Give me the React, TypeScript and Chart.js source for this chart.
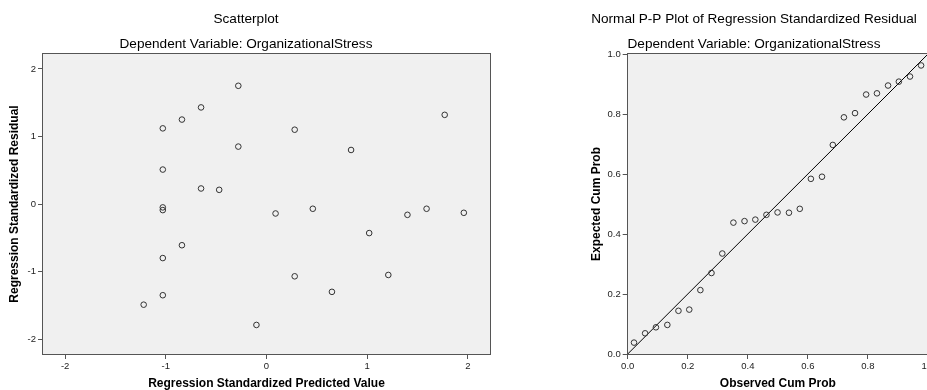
import React, { useEffect, useRef } from "react";
import { Chart, registerables } from "chart.js";

Chart.register(...registerables);

// ---- Data: left scatterplot ----
const predictedValues = [
  -0.28, -0.65, -0.84, -1.03, -0.28, -1.03, -0.65, -0.47, -1.03, -1.03, 0.28, 0.84, 1.77, 0.09,
  0.46, 1.4, 1.59, 1.96, -0.84, -1.03, -1.03, -1.22, 1.02, 0.28, 1.21, 0.65, -0.1,
];
const residualValues = [
  1.75, 1.43, 1.25, 1.12, 0.85, 0.51, 0.23, 0.21, -0.05, -0.09, 1.1, 0.8, 1.32, -0.14, -0.07,
  -0.16, -0.07, -0.13, -0.61, -0.8, -1.35, -1.49, -0.43, -1.07, -1.05, -1.3, -1.79,
];
const scatterTicks = [-2, -1, 0, 1, 2];

// ---- Data: right P-P plot ----
const observedCumProb = [
  0.021, 0.058, 0.094, 0.132, 0.169, 0.205, 0.242, 0.279, 0.315, 0.352, 0.389, 0.425, 0.462,
  0.499, 0.537, 0.573, 0.61, 0.647, 0.683, 0.72, 0.757, 0.794, 0.83, 0.867, 0.903, 0.94, 0.977,
];
const expectedCumProb = [
  0.038, 0.069, 0.089, 0.097, 0.144, 0.148, 0.213, 0.27, 0.335, 0.438, 0.443, 0.448, 0.464,
  0.472, 0.471, 0.484, 0.584, 0.591, 0.697, 0.789, 0.803, 0.865, 0.869, 0.895, 0.908, 0.925,
  0.962,
];
const ppTicks = [0, 0.2, 0.4, 0.6, 0.8, 1.0];
const ppLine = [0, 1];

const FONT = 'Arial, "Liberation Sans", sans-serif';

const frameBg = {
  id: "frameBg",
  beforeDraw(chart: any) {
    const { ctx, chartArea } = chart;
    ctx.save();
    ctx.fillStyle = "#f0f0f0";
    ctx.fillRect(chartArea.left, chartArea.top, chartArea.right - chartArea.left, chartArea.bottom - chartArea.top);
    ctx.restore();
  },
  afterDraw(chart: any) {
    const { ctx, chartArea } = chart;
    ctx.save();
    ctx.strokeStyle = "#555";
    ctx.lineWidth = 1;
    const l = Math.round(chartArea.left) - 0.5;
    const t = Math.round(chartArea.top) - 0.5;
    const r = Math.round(chartArea.right) + 0.5;
    const b = Math.round(chartArea.bottom) + 0.5;
    ctx.strokeRect(l, t, r - l, b - t);
    ctx.restore();
  },
};

function axis(
  ticks: number[],
  min: number,
  max: number,
  title: string,
  fmt: (v: number) => string,
  size: number,
  titlePad: any
) {
  return {
    type: "linear",
    min,
    max,
    afterBuildTicks: (scale: any) => {
      scale.ticks = ticks.map((v) => ({ value: v }));
    },
    afterFit: (scale: any) => {
      if (scale.isHorizontal()) scale.height = size;
      else scale.width = size;
    },
    border: { display: false },
    grid: {
      display: true,
      drawOnChartArea: false,
      drawTicks: true,
      tickLength: 5,
      color: "#555",
      lineWidth: 1,
    },
    ticks: {
      padding: 2,
      color: "#222",
      font: { size: 9.5, family: FONT },
      callback: (v: any) => fmt(Number(v)),
      maxRotation: 0,
      autoSkip: false,
    },
    title: {
      display: true,
      text: title,
      color: "#000",
      font: { size: 12, weight: "bold", family: FONT, lineHeight: 1 },
      padding: titlePad,
    },
  };
}

function titles(sub: string, main: string) {
  return {
    title: {
      display: true,
      text: main,
      color: "#000",
      font: { size: 13.6, weight: "normal", family: FONT, lineHeight: 1.2 },
      padding: { top: 11, bottom: 0 },
    },
    subtitle: {
      display: true,
      text: sub,
      color: "#000",
      font: { size: 13.6, weight: "normal", family: FONT, lineHeight: 1.2 },
      padding: { top: 9, bottom: 1.4 },
    },
  };
}

const pointStyle = {
  pointRadius: 2.8,
  pointBorderWidth: 1,
  pointBorderColor: "#333",
  pointBackgroundColor: "rgba(0,0,0,0)",
  showLine: false,
};

export default function App() {
  const leftRef = useRef<HTMLCanvasElement>(null);
  const rightRef = useRef<HTMLCanvasElement>(null);

  useEffect(() => {
    const left = new Chart(leftRef.current as HTMLCanvasElement, {
      type: "scatter",
      data: {
        datasets: [
          {
            label: "Residual",
            data: predictedValues.map((x, i) => ({ x, y: residualValues[i] })),
            ...pointStyle,
          } as any,
        ],
      },
      options: {
        responsive: false,
        animation: false,
        events: [],
        layout: { padding: { left: 0, right: 3, top: 0, bottom: 0 } },
        plugins: {
          legend: { display: false },
          tooltip: { enabled: false },
          ...titles("Dependent Variable: OrganizationalStress", "Scatterplot"),
        } as any,
        scales: {
          x: axis(scatterTicks, -2.22, 2.22, "Regression Standardized Predicted Value", (v) => String(v), 36, { top: 0, bottom: 0 }),
          y: axis(scatterTicks, -2.22, 2.22, "Regression Standardized Residual", (v) => String(v), 43, { top: 9, bottom: 0 }),
        } as any,
      },
      plugins: [frameBg],
    });

    const right = new Chart(rightRef.current as HTMLCanvasElement, {
      type: "scatter",
      data: {
        datasets: [
          {
            label: "Expected",
            data: observedCumProb.map((x, i) => ({ x, y: expectedCumProb[i] })),
            ...pointStyle,
          } as any,
          {
            type: "line",
            label: "Reference",
            data: ppLine.map((v) => ({ x: v, y: v })),
            borderColor: "#000",
            borderWidth: 1,
            pointRadius: 0,
            fill: false,
            showLine: true,
          } as any,
        ],
      },
      options: {
        responsive: false,
        animation: false,
        events: [],
        layout: { padding: { left: 80, right: 84, top: 0, bottom: 0 } },
        plugins: {
          legend: { display: false },
          tooltip: { enabled: false },
          ...titles("Dependent Variable: OrganizationalStress", "Normal P-P Plot of Regression Standardized Residual"),
        } as any,
        scales: {
          x: axis(ppTicks, 0, 1, "Observed Cum Prob", (v) => v.toFixed(1), 36, { top: 0, bottom: 0 }),
          y: axis(ppTicks, 0, 1, "Expected Cum Prob", (v) => v.toFixed(1), 47.7, { top: 11, bottom: 0 }),
        } as any,
      },
      plugins: [frameBg],
    });

    return () => {
      left.destroy();
      right.destroy();
    };
  }, []);

  return (
    <div
      style={{
        position: "fixed",
        left: 0,
        top: 0,
        width: 927,
        height: 390,
        overflow: "hidden",
        background: "#fff",
      }}
    >
      <canvas
        ref={leftRef}
        width={495}
        height={390}
        style={{ position: "absolute", left: 0, top: 0, width: 495, height: 390 }}
      />
      <canvas
        ref={rightRef}
        width={512}
        height={390}
        style={{ position: "absolute", left: 500, top: 0, width: 512, height: 390 }}
      />
    </div>
  );
}
